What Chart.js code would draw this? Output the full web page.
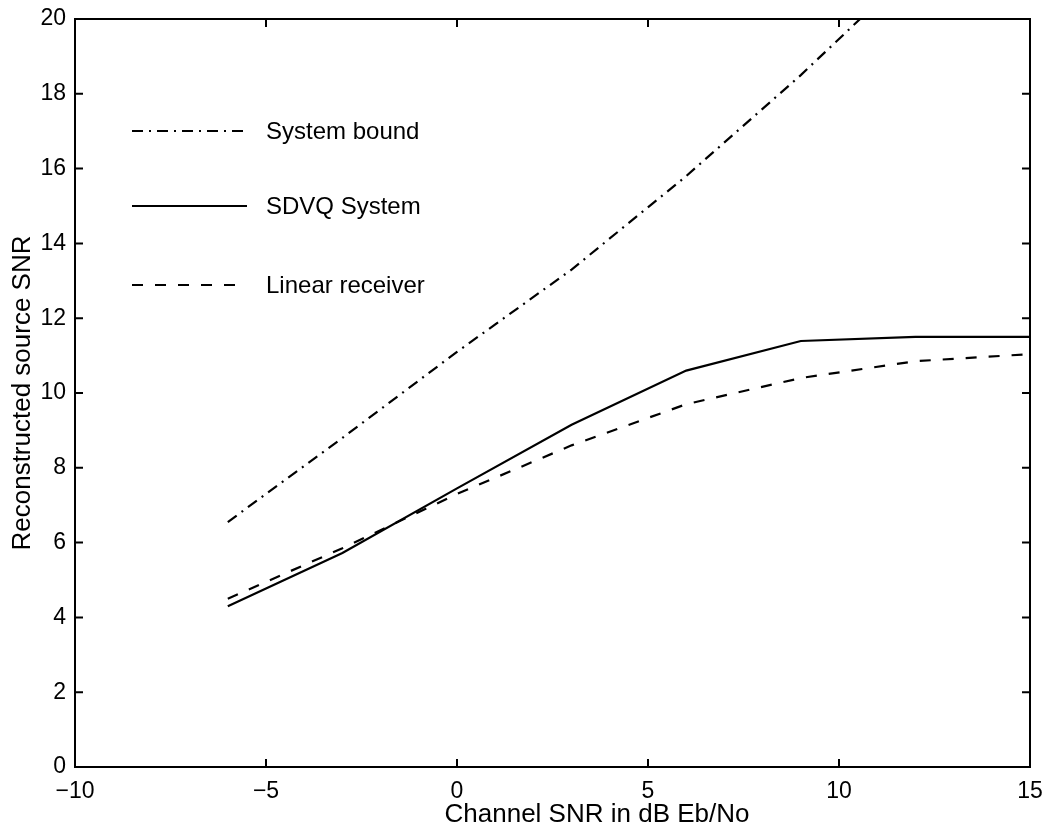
<!DOCTYPE html>
<html>
<head>
<meta charset="utf-8">
<script src="https://cdn.jsdelivr.net/npm/chart.js@4/dist/chart.umd.min.js"></script>
<style>
  html, body { margin: 0; padding: 0; background: #fff; }
  #wrap { width: 1047px; height: 830px; }
</style>
</head>
<body>
<div id="wrap"><canvas id="snr-chart" width="1047" height="830"></canvas></div>
<script>
const channelSnr = [-6, -3, 0, 3, 6, 9, 12, 15];
const systemBound = [6.55, 8.8, 11.1, 13.3, 15.8, 18.5, 21.4, 24.4];
const sdvqSystem = [4.3, 5.72, 7.45, 9.15, 10.6, 11.39, 11.5, 11.5];
const linearReceiver = [4.5, 5.85, 7.3, 8.6, 9.7, 10.4, 10.85, 11.04];

const xTicks = [-10, -5, 0, 5, 10, 15];
const yTicks = [0, 2, 4, 6, 8, 10, 12, 14, 16, 18, 20];

const xTitle = 'Channel SNR in dB Eb/No';
const yTitle = 'Reconstructed source SNR';

const legendItems = [
  { label: 'System bound', dash: [11, 6, 2, 6] },
  { label: 'SDVQ System', dash: [] },
  { label: 'Linear receiver', dash: [11, 12] }
];

const FONT = '"Liberation Sans", Arial, Helvetica, sans-serif';

function points(ys) {
  return channelSnr.map((x, i) => ({ x: x, y: ys[i] }));
}

// box round the plot with inward ticks on all four sides, matlab style
const frame = {
  id: 'frame',
  afterDatasetsDraw(chart) {
    const { ctx, chartArea: a, scales } = chart;
    const len = 8;
    ctx.save();
    ctx.strokeStyle = '#000';
    ctx.lineWidth = 2;
    ctx.strokeRect(a.left, a.top, a.right - a.left, a.bottom - a.top);
    ctx.beginPath();
    xTicks.forEach(v => {
      const px = scales.x.getPixelForValue(v);
      ctx.moveTo(px, a.bottom); ctx.lineTo(px, a.bottom - len);
      ctx.moveTo(px, a.top); ctx.lineTo(px, a.top + len);
    });
    yTicks.forEach(v => {
      const py = scales.y.getPixelForValue(v);
      ctx.moveTo(a.left, py); ctx.lineTo(a.left + len, py);
      ctx.moveTo(a.right, py); ctx.lineTo(a.right - len, py);
    });
    ctx.stroke();

    // legend drawn inside the axes
    const rows = [131, 206, 285];
    ctx.font = '24px ' + FONT;
    ctx.textBaseline = 'middle';
    ctx.fillStyle = '#000';
    legendItems.forEach((item, i) => {
      ctx.beginPath();
      ctx.setLineDash(item.dash);
      ctx.lineWidth = 2;
      ctx.moveTo(132, rows[i]);
      ctx.lineTo(247, rows[i]);
      ctx.stroke();
      ctx.setLineDash([]);
      ctx.fillText(item.label, 266, rows[i] + 1);
    });

    // x label sits a little right of the axis centre
    ctx.font = '26px ' + FONT;
    ctx.textBaseline = 'alphabetic';
    ctx.textAlign = 'center';
    ctx.fillText(xTitle, 597, 822);
    ctx.restore();
  }
};

const lineStyle = {
  borderColor: '#000',
  borderWidth: 2.2,
  pointRadius: 0,
  tension: 0,
  fill: false
};

new Chart(document.getElementById('snr-chart').getContext('2d'), {
  type: 'line',
  data: {
    datasets: [
      Object.assign({ label: 'System bound', data: points(systemBound), borderDash: [11, 6, 2, 6] }, lineStyle),
      Object.assign({ label: 'SDVQ System', data: points(sdvqSystem) }, lineStyle),
      Object.assign({ label: 'Linear receiver', data: points(linearReceiver), borderDash: [11, 12] }, lineStyle)
    ]
  },
  options: {
    responsive: false,
    animation: false,
    layout: { padding: { top: 19, right: 17, left: 0, bottom: 0 } },
    plugins: {
      legend: { display: false },
      tooltip: { enabled: false }
    },
    scales: {
      x: {
        type: 'linear',
        min: -10,
        max: 15,
        afterBuildTicks: s => { s.ticks = xTicks.map(v => ({ value: v })); },
        afterFit: s => { s.height = 63; s.paddingLeft = 0; s.paddingRight = 0; },
        grid: { display: false, drawTicks: false },
        border: { display: false },
        ticks: {
          color: '#000',
          font: { family: FONT, size: 23 },
          padding: 11,
          maxRotation: 0,
          callback: v => String(v).replace('-', '\u2212')
        },
        title: { display: false }
      },
      y: {
        min: 0,
        max: 20,
        afterBuildTicks: s => { s.ticks = yTicks.map(v => ({ value: v })); },
        afterFit: s => { s.width = 75; s.paddingTop = 0; s.paddingBottom = 0; },
        grid: { display: false, drawTicks: false },
        border: { display: false },
        ticks: {
          color: '#000',
          font: { family: FONT, size: 23 },
          padding: 9
        },
        title: {
          display: true,
          text: yTitle,
          color: '#000',
          font: { family: FONT, size: 26 },
          padding: { top: 7, bottom: 0 }
        }
      }
    }
  },
  plugins: [frame]
});
</script>
</body>
</html>
